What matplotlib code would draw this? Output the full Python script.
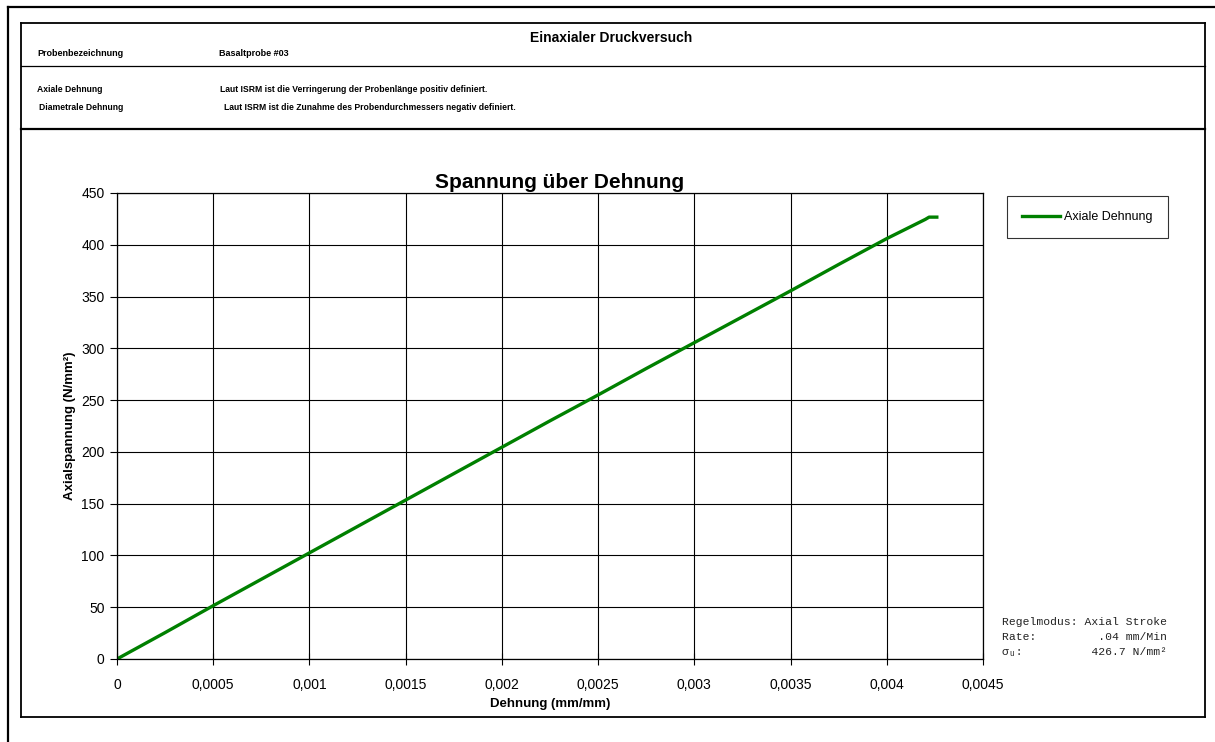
import matplotlib.pyplot as plt
from matplotlib.lines import Line2D
from matplotlib.ticker import FuncFormatter

# measured curve (strain mm/mm, axial stress N/mm²)
strain = [0, 0.00025, 0.0005, 0.00075, 0.001, 0.00125, 0.0015, 0.00175,
          0.002, 0.00225, 0.0025, 0.00275, 0.003, 0.00325, 0.0035, 0.00375,
          0.004, 0.0042, 0.00422, 0.00426]
stress = [0, 25.5, 51.5, 77, 102.5, 128, 153.5, 179, 204.5, 230, 255,
          280.5, 305.5, 330.5, 355.5, 381, 406, 424.5, 426.7, 426.7]

x_ticks = [0, 0.0005, 0.001, 0.0015, 0.002, 0.0025, 0.003, 0.0035, 0.004, 0.0045]
y_ticks = [0, 50, 100, 150, 200, 250, 300, 350, 400, 450]

W, H = 1215, 742
plt.rcParams['font.family'] = ['Liberation Sans', 'DejaVu Sans']

fig = plt.figure(figsize=(W / 100, H / 100), dpi=100)


def fx(x):
    return x / W


def fy(y):
    return 1 - y / H


def hline(x0, x1, y, lw):
    fig.add_artist(Line2D([fx(x0), fx(x1)], [fy(y), fy(y)], color='black', lw=lw))


def vline(x, y0, y1, lw):
    fig.add_artist(Line2D([fx(x), fx(x)], [fy(y0), fy(y1)], color='black', lw=lw))


# page frame
hline(8, W, 7, 1.6)
vline(8, 7, H, 1.6)
# report box
hline(21, 1205, 23, 1.3)
hline(21, 1205, 717, 1.3)
vline(21, 23, 717, 1.3)
vline(1205, 23, 717, 1.3)
hline(21, 1205, 66, 0.9)
hline(21, 1205, 129, 1.6)

# header text
fig.text(fx(611), fy(38), 'Einaxialer Druckversuch', fontsize=10, fontweight='bold',
         ha='center', va='center')
small = dict(fontsize=6.5, fontweight='bold', va='center')
fig.text(fx(37), fy(54), 'Probenbezeichnung', **small)
fig.text(fx(219), fy(54), 'Basaltprobe #03', **small)
small['fontsize'] = 6.2
fig.text(fx(37), fy(90), 'Axiale Dehnung', **small)
fig.text(fx(220), fy(90), 'Laut ISRM ist die Verringerung der Probenlänge positiv definiert.', **small)
fig.text(fx(39), fy(108), 'Diametrale Dehnung', **small)
fig.text(fx(224), fy(108), 'Laut ISRM ist die Zunahme des Probendurchmessers negativ definiert.', **small)

ax = fig.add_axes([fx(117), fy(659), fx(983) - fx(117), fy(193) - fy(659)])
ax.plot(strain, stress, color='#008000', lw=2.4, label='Axiale Dehnung')
ax.set_xlim(0, 0.0045)
ax.set_ylim(0, 450)
ax.set_xticks(x_ticks)
ax.set_yticks(y_ticks)
ax.xaxis.set_major_formatter(FuncFormatter(lambda v, p: ('%g' % v).replace('.', ',')))
ax.grid(True, color='black', lw=0.8)
ax.set_axisbelow(True)
for s in ax.spines.values():
    s.set_linewidth(0.9)
ax.tick_params(axis='both', labelsize=10, colors='black', width=0.8)
ax.tick_params(axis='x', direction='inout', length=8, pad=10)
ax.tick_params(axis='y', direction='out', length=5, pad=4)

ax.set_xlabel('Dehnung (mm/mm)', fontsize=9.5, fontweight='bold', labelpad=4)
ax.set_ylabel('Axialspannung (N/mm²)', fontsize=9.5, fontweight='bold', labelpad=4)
fig.text(fx(560), fy(183), 'Spannung über Dehnung', fontsize=15, fontweight='bold',
         ha='center', va='center')

leg = fig.legend(loc='upper left', bbox_to_anchor=(fx(1007), fy(196)), frameon=True,
                 fancybox=False, edgecolor='black', fontsize=9, handlelength=3.0,
                 handletextpad=0.4, borderpad=1.2, borderaxespad=0)
leg.get_frame().set_linewidth(0.8)

fig.text(fx(1002), fy(637),
         'Regelmodus: Axial Stroke\nRate:         .04 mm/Min\nσᵤ:          426.7 N/mm²',
         family=['Liberation Mono', 'DejaVu Sans Mono'], fontsize=8.2, va='center',
         linespacing=1.6, color='#222222')

fig.savefig('out.png', dpi=100)
